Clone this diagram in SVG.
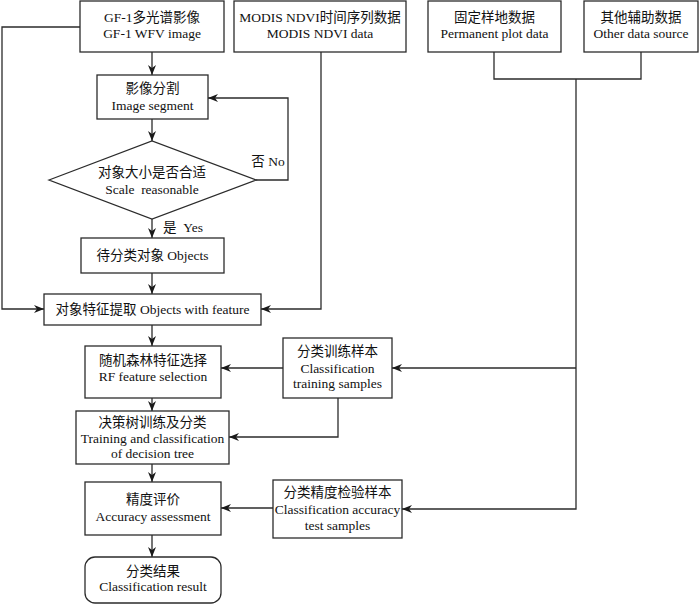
<svg xmlns="http://www.w3.org/2000/svg" width="700" height="604" viewBox="0 0 700 604">
<style>
.b{fill:#fff;stroke:#2b2b2b;stroke-width:1.3}
.c{fill:none;stroke:#2b2b2b;stroke-width:1.3}
.a{marker-end:url(#ah)}
text{font-family:"Liberation Serif","Noto Sans CJK SC",serif;font-size:13.5px;fill:#111;text-anchor:middle}
</style>
<defs>
<marker id="ah" markerUnits="userSpaceOnUse" markerWidth="11" markerHeight="9" refX="10" refY="4" orient="auto" viewBox="0 0 11 9">
<path d="M0,0 L10,4 L0,8 L3,4 z" fill="#1a1a1a"/>
</marker>
</defs>
<rect width="700" height="604" fill="#fff"/>
<g id="connectors">
<path class="c a" d="M80,27 H2 V309 H44"/>
<path class="c a" d="M152,52 V75"/>
<path class="c a" d="M152,119 V141"/>
<path class="c a" d="M256,180 H288 V98 H208"/>
<path class="c a" d="M152,219 V238"/>
<path class="c a" d="M152,273 V294"/>
<path class="c a" d="M321,52 V309 H261"/>
<path class="c a" d="M152,325 V346"/>
<path class="c" d="M494,52 V79 H641 V52"/>
<path class="c a" d="M576,79 V509 H402"/>
<path class="c a" d="M576,368 H392"/>
<path class="c a" d="M283,368 H221"/>
<path class="c a" d="M338,398 V437 H229"/>
<path class="c a" d="M152,398 V411"/>
<path class="c a" d="M152,464 V482"/>
<path class="c a" d="M273,508 H221"/>
<path class="c a" d="M152,535 V557"/>
</g>
<g id="gf1">
<rect class="b" x="80" y="1" width="144" height="51"/>
<text x="152" y="22">GF-1多光谱影像</text>
<text x="152" y="38">GF-1 WFV image</text>
</g>
<g id="modis">
<rect class="b" x="234" y="1" width="172" height="51"/>
<text x="320" y="22">MODIS NDVI时间序列数据</text>
<text x="320" y="38">MODIS NDVI data</text>
</g>
<g id="plot">
<rect class="b" x="428" y="1" width="133" height="51"/>
<text x="494.5" y="22">固定样地数据</text>
<text x="494.5" y="38">Permanent plot data</text>
</g>
<g id="other">
<rect class="b" x="584" y="1" width="114" height="51"/>
<text x="641" y="22">其他辅助数据</text>
<text x="641" y="38">Other data source</text>
</g>
<g id="segment">
<rect class="b" x="97" y="75" width="111" height="44"/>
<text x="152.5" y="93">影像分割</text>
<text x="152.5" y="110">Image segment</text>
</g>
<g id="scale">
<polygon class="b" points="49,180 152,141 256,180 152,219"/>
<text x="152" y="177">对象大小是否合适</text>
<text x="152" y="194" xml:space="preserve">Scale  reasonable</text>
</g>
<g id="labels">
<text x="268" y="166">否 No</text>
<text x="183" y="232" xml:space="preserve">是  Yes</text>
</g>
<g id="objects">
<rect class="b" x="81" y="238" width="143" height="35"/>
<text x="152.5" y="260">待分类对象 Objects</text>
</g>
<g id="feature">
<rect class="b" x="44" y="294" width="217" height="31"/>
<text x="152.5" y="314">对象特征提取 Objects with feature</text>
</g>
<g id="rf">
<rect class="b" x="85" y="346" width="136" height="52"/>
<text x="153" y="365">随机森林特征选择</text>
<text x="153" y="381">RF feature selection</text>
</g>
<g id="training">
<rect class="b" x="283" y="338" width="109" height="60"/>
<text x="337.5" y="356">分类训练样本</text>
<text x="337.5" y="373">Classification</text>
<text x="337.5" y="388">training samples</text>
</g>
<g id="dt">
<rect class="b" x="76" y="411" width="153" height="53"/>
<text x="152.5" y="427">决策树训练及分类</text>
<text x="152.5" y="443">Training and classification</text>
<text x="152.5" y="458">of decision tree</text>
</g>
<g id="accuracy">
<rect class="b" x="85" y="482" width="136" height="53"/>
<text x="153" y="504">精度评价</text>
<text x="153" y="521">Accuracy assessment</text>
</g>
<g id="test">
<rect class="b" x="273" y="480" width="129" height="58"/>
<text x="337.5" y="497">分类精度检验样本</text>
<text x="337.5" y="514">Classification accuracy</text>
<text x="337.5" y="530">test samples</text>
</g>
<g id="result">
<rect class="b" x="85" y="557" width="136" height="46" rx="10"/>
<text x="153" y="576">分类结果</text>
<text x="153" y="591">Classification result</text>
</g>
</svg>
